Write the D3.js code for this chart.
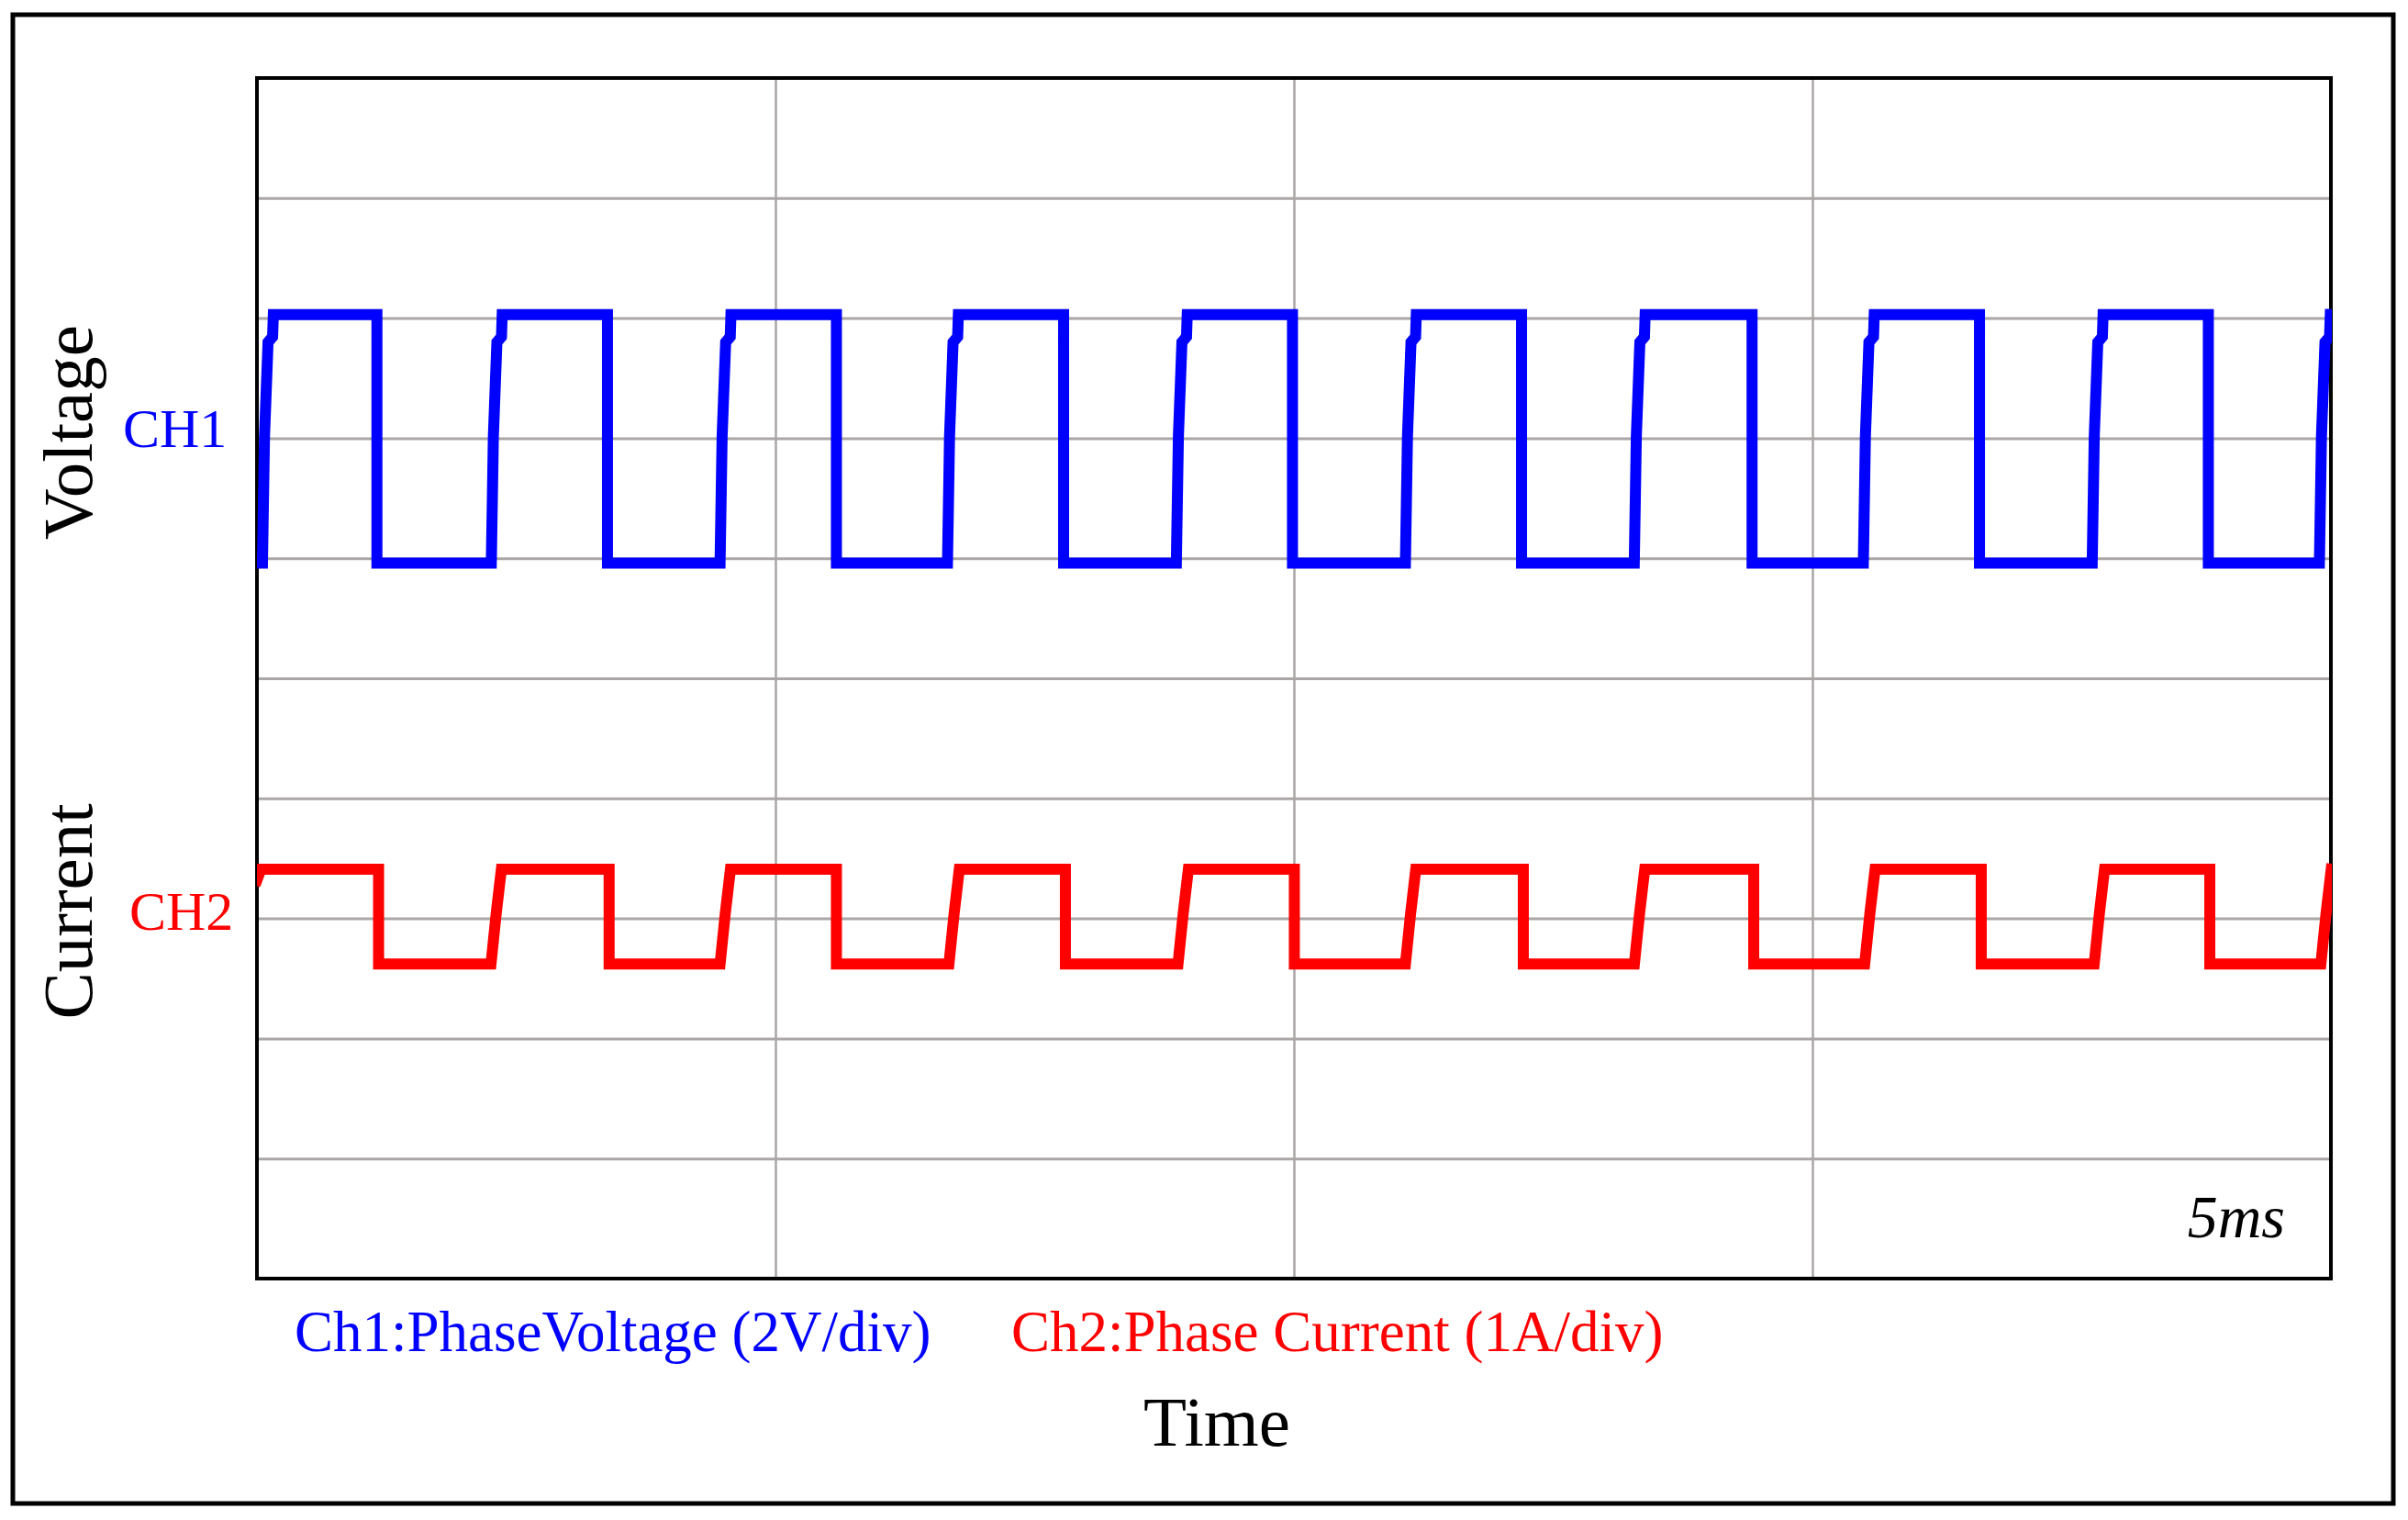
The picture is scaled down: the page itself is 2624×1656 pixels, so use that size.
<!DOCTYPE html>
<html>
<head>
<meta charset="utf-8">
<script src="https://cdn.jsdelivr.net/npm/d3@7"></script>
<style>
  html, body { margin: 0; padding: 0; background: #fff; }
  svg { display: block; }
  text { font-family: "Liberation Serif", "Times New Roman", serif; }
</style>
</head>
<body>
<script>
// ---------------- DATA ----------------
// time axis: 5 ms / div, 4 divisions
const timeDomain = [0, 20];            // ms
const timeGrid = [5, 10, 15];          // ms, vertical grid lines
const divGrid = [1, 2, 3, 4, 5, 6, 7, 8, 9]; // vertical divisions (10 total)

// Channel 1 : phase voltage (2 V/div), zero level at division 5.96
const ch1VoltsPerDiv = 2;
const ch1ZeroDiv = 5.96;
const ch1Low = 0;       // V
const ch1High = 4.14;   // V
const ch1RiseStart = [0.053, 2.260, 4.466, 6.659, 8.866, 11.075, 13.282, 15.491, 17.698, 19.889]; // ms
const ch1FallAt    = [1.157, 3.380, 5.588, 7.779, 9.986, 12.195, 14.418, 16.611, 18.818];         // ms
// shape of each rising edge (ms after rise start, volts)
const ch1EdgeDt = [0, 0.020, 0.054, 0.098, 0.105];
const ch1EdgeV  = [0, 2.12, 3.68, 3.77, 4.14];

// Channel 2 : phase current (1 A/div), zero level at division 2.62
const ch2AmpsPerDiv = 1;
const ch2ZeroDiv = 2.62;
const ch2Low = 0;       // A
const ch2High = 0.79;   // A
const ch2StartT = [0, 0.04];
const ch2StartV = [0.70, 0.79];
const ch2FallAt    = [1.173, 3.396, 5.588, 7.796, 10.004, 12.212, 14.434, 16.628, 18.832]; // ms
const ch2RiseStart = [2.257, 4.466, 6.673, 8.882, 11.075, 13.283, 15.504, 17.717, 19.903]; // ms
const ch2EdgeDt = [0, 0.05, 0.10];
const ch2EdgeV  = [0, 0.42, 0.79];

// texts
const yLabels = [
  { text: "Voltage", pos: 471 },
  { text: "Current", pos: 993 }
];
const chTags = [
  { text: "CH1", color: "#0000ff", x: 134, y: 487 },
  { text: "CH2", color: "#ff0000", x: 141, y: 1013 }
];
const legendItems = [
  { text: "Ch1:PhaseVoltage (2V/div)", color: "#0000ff", x: 321 },
  { text: "Ch2:Phase Current (1A/div)", color: "#ff0000", x: 1102 }
];
const xTitle = "Time";
const scaleNote = "5ms";

// ---------------- CHART ----------------
const W = 2624, H = 1656;
const plot = { left: 280, top: 85, right: 2540, bottom: 1393 };

const svg = d3.select("body").append("svg")
  .attr("width", W).attr("height", H)
  .attr("viewBox", `0 0 ${W} ${H}`);

svg.append("rect").attr("width", W).attr("height", H).attr("fill", "#fff");

// outer frame
svg.append("rect")
  .attr("x", 14).attr("y", 16)
  .attr("width", 2608 - 14).attr("height", 1638 - 16)
  .attr("fill", "none").attr("stroke", "#000").attr("stroke-width", 5);

const x = d3.scaleLinear().domain(timeDomain).range([plot.left, plot.right]);
const yDiv = d3.scaleLinear().domain([0, 10]).range([plot.bottom, plot.top]);
const y1 = v => yDiv(ch1ZeroDiv + v / ch1VoltsPerDiv);
const y2 = v => yDiv(ch2ZeroDiv + v / ch2AmpsPerDiv);

// grid via axes
const gridColor = "#aba6a6";
const gx = svg.append("g")
  .attr("transform", `translate(0,${plot.bottom})`)
  .call(d3.axisBottom(x).tickValues(timeGrid)
        .tickSize(-(plot.bottom - plot.top)).tickFormat(""));
gx.select(".domain").remove();
gx.selectAll(".tick line").attr("stroke", gridColor).attr("stroke-width", 2.5);

const gy = svg.append("g")
  .attr("transform", `translate(${plot.left},0)`)
  .call(d3.axisLeft(yDiv).tickValues(divGrid)
        .tickSize(-(plot.right - plot.left)).tickFormat(""));
gy.select(".domain").remove();
gy.selectAll(".tick line").attr("stroke", gridColor).attr("stroke-width", 3);

// plot border
svg.append("rect")
  .attr("x", plot.left).attr("y", plot.top)
  .attr("width", plot.right - plot.left).attr("height", plot.bottom - plot.top)
  .attr("fill", "none").attr("stroke", "#000").attr("stroke-width", 4);

// clip
svg.append("clipPath").attr("id", "clipPlot")
  .append("rect")
  .attr("x", plot.left).attr("y", plot.top - 10)
  .attr("width", plot.right - plot.left + 1).attr("height", plot.bottom - plot.top + 20);

// build channel 1 points
const ch1Pts = [[0, ch1Low]];
ch1RiseStart.forEach((rs, i) => {
  ch1EdgeDt.forEach((dt, k) => ch1Pts.push([rs + dt, ch1EdgeV[k]]));
  if (i < ch1FallAt.length) {
    ch1Pts.push([ch1FallAt[i], ch1High]);
    ch1Pts.push([ch1FallAt[i], ch1Low]);
  }
});

// build channel 2 points
const ch2Pts = ch2StartT.map((t, i) => [t, ch2StartV[i]]);
ch2FallAt.forEach((f, i) => {
  ch2Pts.push([f, ch2High]);
  ch2Pts.push([f, ch2Low]);
  if (i < ch2RiseStart.length) {
    ch2EdgeDt.forEach((dt, k) => ch2Pts.push([ch2RiseStart[i] + dt, ch2EdgeV[k]]));
  }
});
ch2RiseStart.slice(ch2FallAt.length).forEach(rs => {
  ch2EdgeDt.forEach((dt, k) => ch2Pts.push([rs + dt, ch2EdgeV[k]]));
});

const line1 = d3.line().x(d => x(d[0])).y(d => y1(d[1]));
const line2 = d3.line().x(d => x(d[0])).y(d => y2(d[1]));

const sig = svg.append("g").attr("clip-path", "url(#clipPlot)");
sig.append("path").datum(ch1Pts)
  .attr("d", line1)
  .attr("fill", "none").attr("stroke", "#0000ff")
  .attr("stroke-width", 12).attr("stroke-linejoin", "miter").attr("stroke-linecap", "square");
sig.append("path").datum(ch2Pts)
  .attr("d", line2)
  .attr("fill", "none").attr("stroke", "#ff0000")
  .attr("stroke-width", 12).attr("stroke-linejoin", "miter").attr("stroke-linecap", "square");

// y labels (rotated)
svg.selectAll(".ylab").data(yLabels).enter().append("text")
  .attr("class", "ylab")
  .attr("transform", d => `translate(100,${d.pos}) rotate(-90)`)
  .attr("text-anchor", "middle")
  .attr("font-size", 77)
  .attr("fill", "#000")
  .text(d => d.text);

// channel tags
svg.selectAll(".tag").data(chTags).enter().append("text")
  .attr("class", "tag")
  .attr("x", d => d.x).attr("y", d => d.y)
  .attr("font-size", 60)
  .attr("fill", d => d.color)
  .text(d => d.text);

// legend
svg.selectAll(".leg").data(legendItems).enter().append("text")
  .attr("class", "leg")
  .attr("x", d => d.x).attr("y", 1472)
  .attr("font-size", 63)
  .attr("fill", d => d.color)
  .text(d => d.text);

// x title
svg.append("text")
  .attr("x", 1326).attr("y", 1575)
  .attr("text-anchor", "middle")
  .attr("font-size", 77)
  .attr("fill", "#000")
  .text(xTitle);

// scale note
svg.append("text")
  .attr("x", 2490).attr("y", 1348)
  .attr("text-anchor", "end")
  .attr("font-size", 66)
  .attr("font-style", "italic")
  .attr("fill", "#000")
  .text(scaleNote);
</script>
</body>
</html>
